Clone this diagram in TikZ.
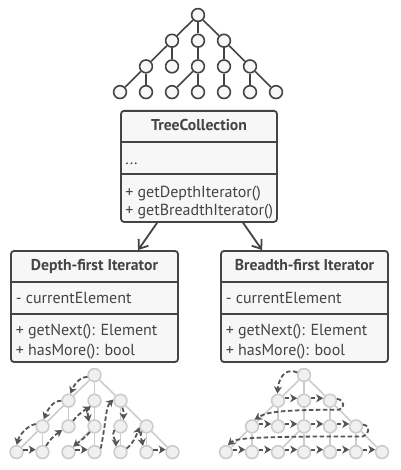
\documentclass[tikz,border=0pt]{standalone}
\usepackage{fontspec}
\setmainfont{PT Sans}
\usetikzlibrary{arrows.meta,calc}
\definecolor{ink}{HTML}{444444}
\definecolor{boxfill}{HTML}{F7F7F7}
\definecolor{lite}{HTML}{CCCCCC}
\definecolor{litefill}{HTML}{F0F0F0}
\definecolor{arr}{HTML}{555555}
\tikzset{
 umlbox/.style={draw=ink, line width=1.8pt, rounded corners=3pt, fill=boxfill, inner sep=0},
 divider/.style={draw=ink, line width=1.8pt},
 txt/.style={anchor=base west, inner sep=0, font=\fontsize{16}{19}\selectfont, text=ink},
 ttl/.style={anchor=base, inner sep=0, font=\fontsize{15.7}{19}\selectfont\bfseries, text=ink},
 topnode/.style={circle, draw=ink, line width=1.6pt, fill=boxfill, minimum size=12.8pt, inner sep=0},
 topedge/.style={draw=ink, line width=1.6pt},
 lnode/.style={circle, draw=lite, line width=1.6pt, fill=litefill, minimum size=12.8pt, inner sep=0},
 ledge/.style={draw=lite, line width=1.6pt},
 walk/.style={draw=arr, line width=1.8pt, dash pattern=on 4.5pt off 2.5pt, -{Stealth[length=7pt,width=8pt,inset=2pt]}},
 dep/.style={draw=ink, line width=1.8pt, -{Straight Barb[length=8pt,width=12pt]}},
}
\newcommand{\mktree}[4]{%
 \node[#4] (#1r) at (#2,#3) {};
 \foreach \i/\dx in {1/-26,2/0,3/26} \node[#4] (#1a\i) at (#2+\dx,#3+25.7) {};
 \foreach \i/\dx in {1/-52,2/-26,3/0,4/26,5/52} \node[#4] (#1b\i) at (#2+\dx,#3+51.4) {};
 \foreach \i/\dx in {1/-78,2/-52,3/-26,4/0,5/26,6/52,7/78} \node[#4] (#1c\i) at (#2+\dx,#3+77.1) {};
}
\newcommand{\mkedges}[2]{%
 \foreach \u/\v in {r/a1,r/a2,r/a3,a1/b1,a1/b2,a2/b3,a3/b4,a3/b5,b1/c1,b1/c2,b3/c3,b3/c4,b4/c5,b5/c6,b5/c7}
  \draw[#2] (#1\u) -- (#1\v);
}
\begin{document}
\begin{tikzpicture}[x=1pt,y=-1pt]
\useasboundingbox (0,0) rectangle (400,470);
\fill[white] (0,0) rectangle (400,470);

% top tree
\mktree{T}{198}{15}{topnode}
\mkedges{T}{topedge}

% TreeCollection
\node[umlbox, minimum width=156pt, minimum height=111pt] (tc) at (199,166.4) {};
\path (tc.north west) ++(0,32) coordinate (tc1) ++(0,32) coordinate (tc2);
\draw[divider] (tc1) -- (tc1 -| tc.east);
\draw[divider] (tc2) -- (tc2 -| tc.east);
\node[ttl] (tct) at ($(tc.north)+(0,21)$) {TreeCollection};
\node[txt] (tcd) at ($(tc.north west)+(5,55)$) {...};
\node[txt] (tcm1) at ($(tc.north west)+(5,87)$) {+ getDepthIterator()};
\node[txt] (tcm2) at ($(tc.north west)+(5,105.5)$) {+ getBreadthIterator()};

% Depth-first Iterator
\node[umlbox, minimum width=167pt, minimum height=111pt] (dfi) at (94.5,306.5) {};
\path (dfi.north west) ++(0,32) coordinate (df1) ++(0,32) coordinate (df2);
\draw[divider] (df1) -- (df1 -| dfi.east);
\draw[divider] (df2) -- (df2 -| dfi.east);
\node[ttl] (dft) at ($(dfi.north)+(0,20.7)$) {Depth-first Iterator};
\node[txt] (dfa) at ($(dfi.north west)+(5.5,53.3)$) {- currentElement};
\node[txt] (dfm1) at ($(dfi.north west)+(5.5,85.7)$) {+ getNext(): Element};
\node[txt] (dfm2) at ($(dfi.north west)+(5.5,105)$) {+ hasMore(): bool};

% Breadth-first Iterator
\node[umlbox, minimum width=167pt, minimum height=111pt] (bfi) at (304.5,306.5) {};
\path (bfi.north west) ++(0,32) coordinate (bf1) ++(0,32) coordinate (bf2);
\draw[divider] (bf1) -- (bf1 -| bfi.east);
\draw[divider] (bf2) -- (bf2 -| bfi.east);
\node[ttl] (bft) at ($(bfi.north)+(0,20.7)$) {Breadth-first Iterator};
\node[txt] (bfa) at ($(bfi.north west)+(5.5,53.3)$) {- currentElement};
\node[txt] (bfm1) at ($(bfi.north west)+(5.5,85.7)$) {+ getNext(): Element};
\node[txt] (bfm2) at ($(bfi.north west)+(5.5,105)$) {+ hasMore(): bool};

% dependency arrows
\coordinate (d1s) at ($(tc.south west)+(37,0)$);
\coordinate (d1e) at ($(dfi.north west)+(128,0)$);
\coordinate (d2s) at ($(tc.south west)+(123,0)$);
\coordinate (d2e) at ($(bfi.north west)+(42,0)$);
\draw[dep] (d1s) -- (d1e);
\draw[dep] (d2s) -- (d2e);

% lower left tree (depth-first)
\mktree{L}{94.5}{375}{lnode}
\mkedges{L}{ledge}
\draw[walk] (Lr.195) .. controls +(-9,0) and +(3,-7) .. (La1.75);
\draw[walk] (La1.180) .. controls +(-10,0) and +(3,-7) .. (Lb1.80);
\draw[walk] (Lb1.160) .. controls +(-10,2) and +(2,-8) .. (Lc1.88);
\draw[walk] (Lc1.20) -- (Lc2.160);
\draw[walk] (Lc2.60) .. controls +(4,-7) and +(-6,4) .. (Lb2.210);
\draw[walk] (Lb2.50) .. controls +(4,-6) and +(-5,3) .. (La2.235);
\draw[walk] (La2.230) .. controls +(-3,6) and +(-1,-5) .. (Lb3.140);
\draw[walk] (Lb3.230) .. controls +(-5,6) and +(5,-4) .. (Lc3.50);
\draw[walk] (Lc3.20) -- (Lc4.160);
\draw[walk] (Lc4.30) .. controls +(6,-30) and +(-8,8) .. (La3.170);
\draw[walk] (La3.285) .. controls +(2,5) and +(0,-5) .. (Lb4.65);
\draw[walk] (Lb4.210) .. controls +(-3,5) and +(0,-5) .. (Lc5.130);
\draw[walk] (Lc5.30) .. controls +(6,-5) and +(-3,9) .. (Lb5.185);
\draw[walk] (Lb5.225) .. controls +(-2,6) and +(-1,-6) .. (Lc6.120);
\draw[walk] (Lc6.20) -- (Lc7.160);

% lower right tree (breadth-first)
\mktree{R}{304}{375}{lnode}
\mkedges{R}{ledge}
\draw[walk] (Rr.160) .. controls +(-14,-6) and +(1,-12) .. (Ra1.95);
\foreach \u/\v in {a1/a2,a2/a3,b1/b2,b2/b3,b3/b4,b4/b5,c1/c2,c2/c3,c3/c4,c4/c5,c5/c6,c6/c7}
  \draw[walk] (R\u.20) -- (R\v.160);
\coordinate (bq1) at ($(Ra3)+(9,9)$);
\draw[walk] (Ra3.15) .. controls +(8,1) and +(6,-1) .. (bq1) .. controls +(-70,0) and +(10,-6) .. (Rb1.70);
\coordinate (bq2) at ($(Rb5)+(7,10)$);
\draw[walk] (Rb5.15) .. controls +(8,1) and +(6,-1) .. (bq2) .. controls +(-110,0) and +(8,-7) .. (Rc1.75);
\end{tikzpicture}
\end{document}
